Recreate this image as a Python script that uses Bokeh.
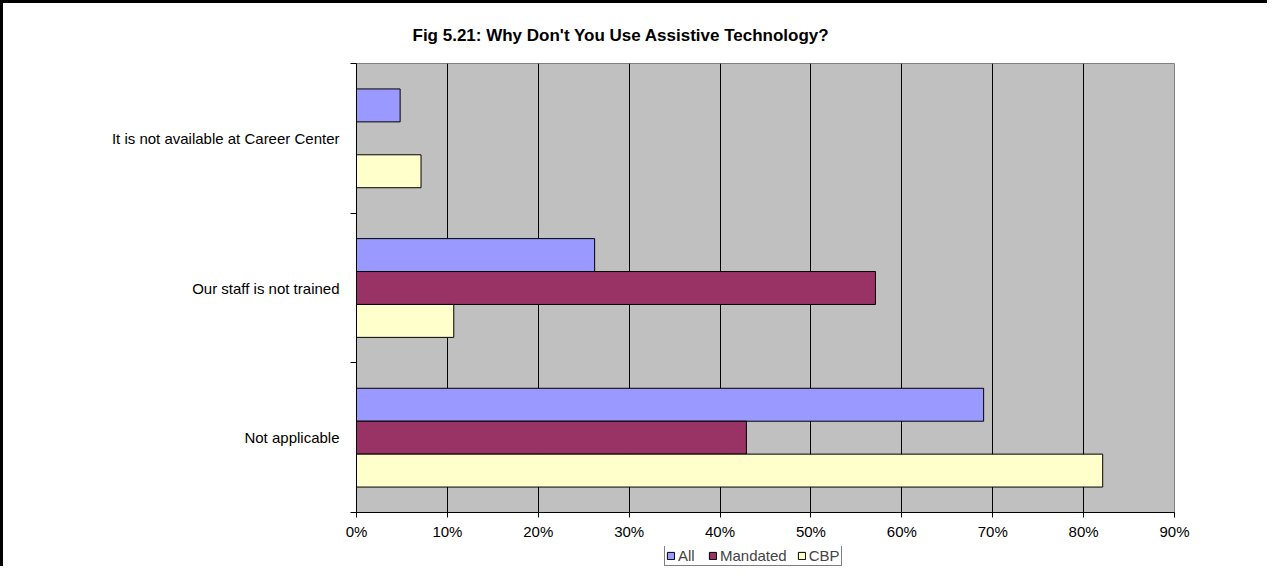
from bokeh.plotting import figure
from bokeh.layouts import column
from bokeh.models import (Range1d, FixedTicker, NumeralTickFormatter, Legend, LegendItem,
                          ColumnDataSource)
from bokeh.embed import file_html
from bokeh.resources import INLINE

# ---- data ----
categories = ["It is not available at Career Center", "Our staff is not trained", "Not applicable"]
series = ["All", "Mandated", "CBP"]
all_vals = [0.048, 0.262, 0.690]
mandated_vals = [0.0, 0.571, 0.429]
cbp_vals = [0.071, 0.107, 0.821]
x_ticks = [0.0, 0.1, 0.2, 0.3, 0.4, 0.5, 0.6, 0.7, 0.8, 0.9]
title_text = "Fig 5.21: Why Don't You Use Assistive Technology?"

colors = ["#9999FF", "#993366", "#FFFFCC"]
FONT = "Liberation Sans"

n = len(categories)
centers = [n - i - 0.5 for i in range(n)]          # top-to-bottom display order
offsets = [0.22, 0.0, -0.22]
bar_h = 0.22

BL, BR = 353, 93   # same side borders for both stacked figures so frames align

p = figure(width=1264, height=543, output_backend="svg", toolbar_location=None,
           x_range=Range1d(0, 0.9), y_range=Range1d(0, n),
           min_border_left=BL, min_border_right=BR, min_border_top=60, min_border_bottom=34)

p.background_fill_color = "#C0C0C0"
p.border_fill_color = "white"
p.outline_line_color = "#808080"
p.outline_line_width = 1

sources = []
for vals, off, col in zip([all_vals, mandated_vals, cbp_vals], offsets, colors):
    src = ColumnDataSource(dict(y=[c + off for c in centers], right=vals))
    sources.append(src)
    p.hbar(y="y", right="right", left=0, height=bar_h, source=src,
           fill_color=col, line_color="black", line_width=1)

# title
p.title.text = title_text
p.title.align = "left"
p.title.offset = 56
p.title.standoff = 37
p.title.text_font = FONT
p.title.text_font_size = "17px"
p.title.text_font_style = "bold"
p.title.text_color = "black"

# grid
p.ygrid.grid_line_color = None
p.xgrid.grid_line_color = "black"
p.xgrid.grid_line_width = 1
p.xgrid.ticker = FixedTicker(ticks=x_ticks)

# x axis
xa = p.xaxis[0]
xa.ticker = FixedTicker(ticks=x_ticks)
xa.formatter = NumeralTickFormatter(format="0%")
xa.axis_line_color = "black"
xa.major_tick_line_color = "black"
xa.major_tick_out = 5
xa.major_tick_in = 0
xa.minor_tick_line_color = None
xa.major_label_text_font = FONT
xa.major_label_text_font_size = "15px"
xa.major_label_text_color = "black"
xa.major_label_standoff = 5

# y axis: labels at category centers, tick marks at category boundaries
ya = p.yaxis[0]
ya.ticker = FixedTicker(ticks=centers, minor_ticks=[float(i) for i in range(n + 1)])
ya.major_label_overrides = {c: cat for c, cat in zip(centers, categories)}
ya.major_tick_line_color = None
ya.minor_tick_line_color = "black"
ya.minor_tick_out = 6
ya.minor_tick_in = 0
ya.axis_line_color = "black"
ya.major_label_text_font = FONT
ya.major_label_text_font_size = "15px"
ya.major_label_text_color = "black"
ya.major_label_standoff = 11

# ---- legend strip: a small figure below, whose (out-of-view) bars carry the legend swatches ----
lp = figure(width=1264, height=20, output_backend="svg", toolbar_location=None,
            x_range=Range1d(0, 0.9), y_range=Range1d(100, 101),
            x_axis_location=None, y_axis_location=None,
            min_border_left=BL, min_border_right=BR, min_border_top=0, min_border_bottom=0)
lp.outline_line_color = None
lp.background_fill_color = "white"
lp.border_fill_color = "white"
lp.grid.visible = False

items = []
for s, src, col in zip(series, sources, colors):
    r = lp.hbar(y="y", right="right", left=0, height=bar_h, source=src,
                fill_color=col, line_color="black", line_width=1)
    items.append(LegendItem(label=s, renderers=[r]))

legend = Legend(items=items, orientation="horizontal", location=(308, 0))
legend.label_text_font = FONT
legend.label_text_font_size = "15px"
legend.glyph_width = 9
legend.glyph_height = 9
legend.label_standoff = 3
legend.spacing = 10
legend.padding = 1
legend.margin = 0
legend.label_height = 14
legend.border_line_color = "black"
legend.border_line_width = 1
legend.background_fill_color = "white"
legend.background_fill_alpha = 1
lp.add_layout(legend, "center")

layout = column(p, lp, spacing=0)
layout.styles = {"border-left": "3px solid black", "border-top": "3px solid black"}

open("out.html", "w").write(file_html(layout, INLINE))
